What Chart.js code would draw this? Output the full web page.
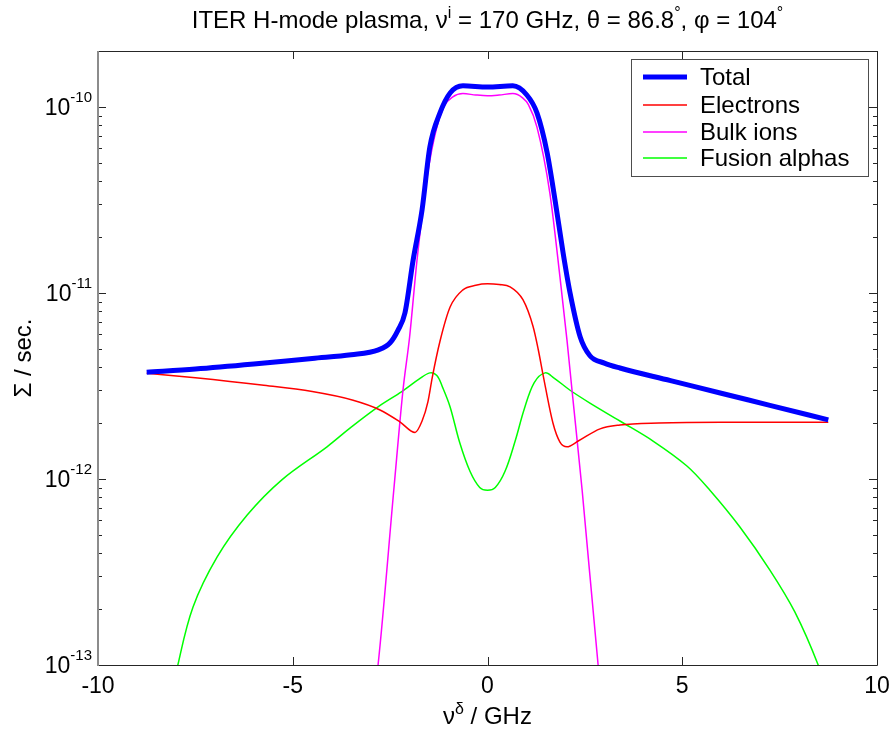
<!DOCTYPE html>
<html lang="en">
<head>
  <meta charset="UTF-8" />
  <title>ITER H-mode plasma</title>
  <script src="https://cdn.jsdelivr.net/npm/chart.js"></script>
  <style>
    html, body { margin: 0; padding: 0; background: #fff; }
    #wrap { width: 893px; height: 731px; }
  </style>
</head>
<body>
  <div id="wrap"><canvas id="chart" width="893" height="731"></canvas></div>

  <script>
    // values (x in GHz, y in sec.)
    const totalX = [-8.75, -7.5, -6, -4.5, -3.5, -2.8, -2.5, -2.3, -2.12, -1.91, -1.68, -1.48, -1.22, -0.96, -0.63, 0, 0.65, 1.01, 1.27, 1.53, 1.73, 1.94, 2.12, 2.38, 2.63, 3.0, 3.4, 4.7, 6.0, 7.25, 8.75];
    const totalY = [3.75e-12, 3.9e-12, 4.15e-12, 4.45e-12, 4.65e-12, 4.95e-12, 5.4e-12, 6.3e-12, 7.8e-12, 1.5e-11, 2.8e-11, 6.1e-11, 9.3e-11, 1.19e-10, 1.3e-10, 1.28e-10, 1.3e-10, 1.16e-10, 9.3e-11, 5.7e-11, 3.2e-11, 1.65e-11, 1.0e-11, 5.8e-12, 4.6e-12, 4.2e-12, 3.95e-12, 3.38e-12, 2.89e-12, 2.49e-12, 2.08e-12];

    const electronsX = [-8.75, -7.5, -5.8, -4.5, -3.45, -2.76, -2.25, -1.86, -1.68, -1.53, -1.42, -1.22, -0.96, -0.63, -0.3, 0, 0.3, 0.58, 0.91, 1.17, 1.3, 1.43, 1.68, 1.86, 2.04, 2.33, 2.89, 3.4, 4.4, 6.0, 8.75];
    const electronsY = [3.7e-12, 3.5e-12, 3.2e-12, 2.95e-12, 2.65e-12, 2.35e-12, 2.03e-12, 1.78e-12, 2.05e-12, 2.6e-12, 3.5e-12, 5.5e-12, 8.4e-12, 1.04e-11, 1.1e-11, 1.12e-11, 1.11e-11, 1.08e-11, 9.2e-12, 6.6e-12, 5.0e-12, 3.6e-12, 2.0e-12, 1.58e-12, 1.49e-12, 1.6e-12, 1.86e-12, 1.95e-12, 2.0e-12, 2.02e-12, 2.02e-12];

    const ionsX = [-2.95, -2.81, -2.4, -2.17, -2.0, -1.81, -1.55, -1.3, -1.1, -0.9, -0.63, -0.3, 0, 0.3, 0.65, 0.9, 1.05, 1.27, 1.6, 1.86, 2.04, 2.17, 2.43, 2.84, 2.95];
    const ionsY = [6e-14, 1e-13, 9e-13, 3.0e-12, 5.8e-12, 1.5e-11, 4.2e-11, 7.8e-11, 1.02e-10, 1.13e-10, 1.18e-10, 1.16e-10, 1.15e-10, 1.16e-10, 1.18e-10, 1.12e-10, 1.03e-10, 7.8e-11, 3.45e-11, 1.22e-11, 5.6e-12, 3.0e-12, 8.7e-13, 1e-13, 6e-14];

    const alphasX = [-8.15, -7.95, -7.56, -6.94, -6.17, -5.28, -4.12, -3.5, -2.8, -2.2, -1.75, -1.48, -1.3, -1.15, -0.96, -0.71, -0.45, -0.2, 0, 0.2, 0.45, 0.71, 0.95, 1.2, 1.48, 1.7, 2.12, 2.63, 3.4, 4.25, 5.12, 5.71, 6.48, 7.25, 7.89, 8.49, 8.6];
    const alphasY = [6e-14, 1e-13, 2.05e-13, 3.81e-13, 6.4e-13, 9.9e-13, 1.49e-12, 1.9e-12, 2.45e-12, 2.95e-12, 3.45e-12, 3.72e-12, 3.6e-12, 3.1e-12, 2.44e-12, 1.56e-12, 1.1e-12, 9e-13, 8.7e-13, 9e-13, 1.1e-12, 1.6e-12, 2.4e-12, 3.3e-12, 3.72e-12, 3.5e-12, 3.0e-12, 2.56e-12, 2.05e-12, 1.6e-12, 1.175e-12, 8.7e-13, 5.52e-13, 3.24e-13, 1.93e-13, 1e-13, 8e-14];

    const seriesNames = ["Total", "Electrons", "Bulk ions", "Fusion alphas"];
    const xTicks = [-10, -5, 0, 5, 10];
    const yDecades = [-13, -12, -11, -10];

    const FONT = '"Liberation Sans", Arial, Helvetica, sans-serif';

    function pts(xs, ys) {
      return xs.map((x, i) => ({ x: x, y: ys[i] }));
    }

    // draws a string made of normal and superscript parts
    function drawRich(ctx, parts, x, y, align, size, supSize, rise) {
      let w = 0;
      parts.forEach(p => {
        ctx.font = (p.sup ? supSize : size) + "px " + FONT;
        p.w = ctx.measureText(p.t).width;
        w += p.w;
      });
      let cx = align === "center" ? x - w / 2 : align === "right" ? x - w : x;
      ctx.textAlign = "left";
      ctx.textBaseline = "alphabetic";
      parts.forEach(p => {
        ctx.font = (p.sup ? supSize : size) + "px " + FONT;
        ctx.fillText(p.t, cx, p.sup ? y - rise : y);
        cx += p.w;
      });
    }

    const decorPlugin = {
      id: "decor",
      afterDraw(chart) {
        const ctx = chart.ctx;
        const a = chart.chartArea;
        const xs = chart.scales.x;
        const ys = chart.scales.y;
        ctx.save();

        // tick marks, drawn inward on all four sides
        ctx.strokeStyle = "#262626";
        ctx.lineWidth = 1;
        ctx.beginPath();
        xTicks.forEach(v => {
          const px = Math.round(xs.getPixelForValue(v)) + 0.5;
          ctx.moveTo(px, a.bottom); ctx.lineTo(px, a.bottom - 8);
          ctx.moveTo(px, a.top); ctx.lineTo(px, a.top + 8);
        });
        yDecades.forEach(d => {
          for (let k = 1; k <= 9; k++) {
            const v = k * Math.pow(10, d);
            if (v > ys.max * 1.0001) break;
            const py = Math.round(ys.getPixelForValue(v)) + 0.5;
            const len = k === 1 ? 8 : 4;
            ctx.moveTo(a.left, py); ctx.lineTo(a.left + len, py);
            ctx.moveTo(a.right, py); ctx.lineTo(a.right - len, py);
          }
        });
        ctx.stroke();

        // axes box
        ctx.beginPath();
        ctx.moveTo(a.left, a.top + 0.5); ctx.lineTo(a.right + 0.5, a.top + 0.5);
        ctx.lineTo(a.right + 0.5, a.bottom + 0.5); ctx.lineTo(a.left, a.bottom + 0.5);
        ctx.stroke();
        ctx.strokeStyle = "#8c8c8c";
        ctx.lineWidth = 2;
        ctx.beginPath();
        ctx.moveTo(a.left, a.top); ctx.lineTo(a.left, a.bottom + 1);
        ctx.stroke();

        // tick labels
        ctx.fillStyle = "#000";
        ctx.font = "23px " + FONT;
        ctx.textAlign = "center";
        ctx.textBaseline = "alphabetic";
        xTicks.forEach(v => {
          ctx.fillText(String(v), xs.getPixelForValue(v), a.bottom + 28);
        });
        yDecades.forEach(d => {
          const py = ys.getPixelForValue(Math.pow(10, d));
          drawRich(ctx, [{ t: "10" }, { t: String(d), sup: true }], a.left - 6, py + 8, "right", 23, 15, 13);
        });

        // axis titles and main title
        drawRich(ctx, [{ t: "\u03bd" }, { t: "\u03b4", sup: true }, { t: " / GHz" }],
          (a.left + a.right) / 2, 724, "center", 24, 16, 10);
        ctx.save();
        ctx.translate(31, (a.top + a.bottom) / 2);
        ctx.rotate(-Math.PI / 2);
        drawRich(ctx, [{ t: "\u03a3 / sec." }], 0, 0, "center", 24, 16, 10);
        ctx.restore();
        drawRich(ctx, [
          { t: "ITER H-mode plasma, \u03bd" }, { t: "i", sup: true },
          { t: " = 170 GHz, \u03b8 = 86.8" }, { t: "\u00b0", sup: true },
          { t: ", \u03c6 = 104" }, { t: "\u00b0", sup: true }
        ], (a.left + a.right) / 2, 28, "center", 24, 16, 10);

        // legend box in the upper right corner
        const lx = 631, ly = 59, lw = 237, lh = 117;
        ctx.fillStyle = "#fff";
        ctx.fillRect(lx, ly, lw, lh);
        ctx.strokeStyle = "#4d4d4d";
        ctx.lineWidth = 1;
        ctx.strokeRect(lx + 0.5, ly + 0.5, lw, lh);
        const rows = [77, 105, 132, 158];
        chart.data.datasets.forEach((ds, i) => {
          ctx.strokeStyle = ds.borderColor;
          ctx.lineWidth = ds.borderWidth;
          ctx.beginPath();
          ctx.moveTo(643, rows[i]); ctx.lineTo(687, rows[i]);
          ctx.stroke();
          ctx.fillStyle = "#000";
          ctx.font = "24px " + FONT;
          ctx.textAlign = "left";
          ctx.textBaseline = "middle";
          ctx.fillText(ds.label, 700, rows[i] + 1);
        });

        ctx.restore();
      }
    };

    const lineStyle = { pointRadius: 0, fill: false, cubicInterpolationMode: "monotone" };
    const smoothStyle = { pointRadius: 0, fill: false, tension: 0.35 };

    new Chart(document.getElementById("chart"), {
      type: "line",
      data: {
        datasets: [
          Object.assign({ label: seriesNames[0], data: pts(totalX, totalY), borderColor: "#0000ff", borderWidth: 5 }, lineStyle),
          Object.assign({ label: seriesNames[1], data: pts(electronsX, electronsY), borderColor: "#ff0000", borderWidth: 1.5 }, lineStyle),
          Object.assign({ label: seriesNames[2], data: pts(ionsX, ionsY), borderColor: "#ff00ff", borderWidth: 1.5 }, lineStyle),
          Object.assign({ label: seriesNames[3], data: pts(alphasX, alphasY), borderColor: "#00ff00", borderWidth: 1.5 }, smoothStyle)
        ]
      },
      options: {
        responsive: false,
        animation: false,
        devicePixelRatio: 1,
        layout: { padding: { top: 51, right: 16, bottom: 66, left: 0 } },
        plugins: {
          legend: { display: false },
          title: { display: false },
          tooltip: { enabled: false }
        },
        scales: {
          x: {
            type: "linear", min: -10, max: 10,
            grid: { display: false }, border: { display: false },
            ticks: { display: false },
            afterFit: s => { s.height = 0; }
          },
          y: {
            type: "logarithmic", min: 1e-13, max: 2e-10,
            grid: { display: false }, border: { display: false },
            ticks: { display: false },
            afterFit: s => { s.width = 98; }
          }
        }
      },
      plugins: [decorPlugin]
    });
  </script>
</body>
</html>
